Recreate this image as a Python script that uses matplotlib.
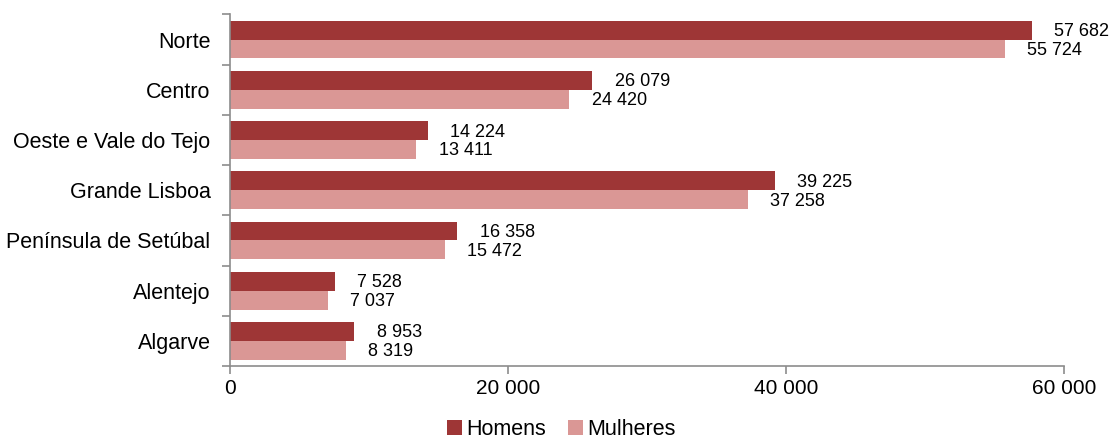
import matplotlib
matplotlib.use("Agg")
from matplotlib import pyplot as plt
from matplotlib.ticker import FuncFormatter, FixedLocator
import numpy as np

plt.rcParams['font.family'] = ['Liberation Sans', 'DejaVu Sans']

regioes = ["Norte", "Centro", "Oeste e Vale do Tejo", "Grande Lisboa",
           "Península de Setúbal", "Alentejo", "Algarve"]
homens = [57682, 26079, 14224, 39225, 16358, 7528, 8953]
mulheres = [55724, 24420, 13411, 37258, 15472, 7037, 8319]
xticks = [0, 20000, 40000, 60000]

cor_h = "#9E3636"
cor_m = "#DA9795"
cinza = "#8C8C8C"


def fmt(v, pos=None):
    return f"{int(v):,}".replace(",", " ")


fig = plt.figure(figsize=(11.12, 4.43), dpi=100)
ax = fig.add_axes([0.2068, 0.1738, 0.75, 0.7935])

y = np.arange(len(regioes))
h = 0.375
bh = ax.barh(y - h / 2, homens, height=h, color=cor_h, label="Homens")
bm = ax.barh(y + h / 2, mulheres, height=h, color=cor_m, label="Mulheres")

for bars, vals in [(bh, homens), (bm, mulheres)]:
    for b, v in zip(bars, vals):
        ax.annotate(fmt(v), (b.get_width(), b.get_y() + b.get_height() / 2),
                    xytext=(16, -1), textcoords="offset points",
                    ha="left", va="center", fontsize=13)

ax.set_ylim(len(regioes) - 0.5, -0.5)
ax.set_xlim(0, 60000)
ax.set_yticks(y)
ax.set_yticklabels(regioes, fontsize=15.5)
ax.yaxis.set_minor_locator(FixedLocator(np.arange(-0.5, len(regioes), 1)))
ax.tick_params(axis="y", which="major", length=0, pad=14)
ax.tick_params(axis="y", which="minor", length=6, color=cinza, width=1.2)

ax.set_xticks(xticks)
ax.xaxis.set_major_formatter(FuncFormatter(fmt))
ax.tick_params(axis="x", length=6, color=cinza, width=1.2, labelsize=15, pad=3)

for s in ["top", "right"]:
    ax.spines[s].set_visible(False)
for s in ["left", "bottom"]:
    ax.spines[s].set_color(cinza)
    ax.spines[s].set_linewidth(1.2)

fig.legend(handles=[bh, bm], loc="lower center", bbox_to_anchor=(0.505, -0.038),
           ncol=2, frameon=False, fontsize=15.5, handlelength=0.7, handleheight=0.7,
           handletextpad=0.2, columnspacing=1.0)

fig.savefig("out.png", dpi=100)
